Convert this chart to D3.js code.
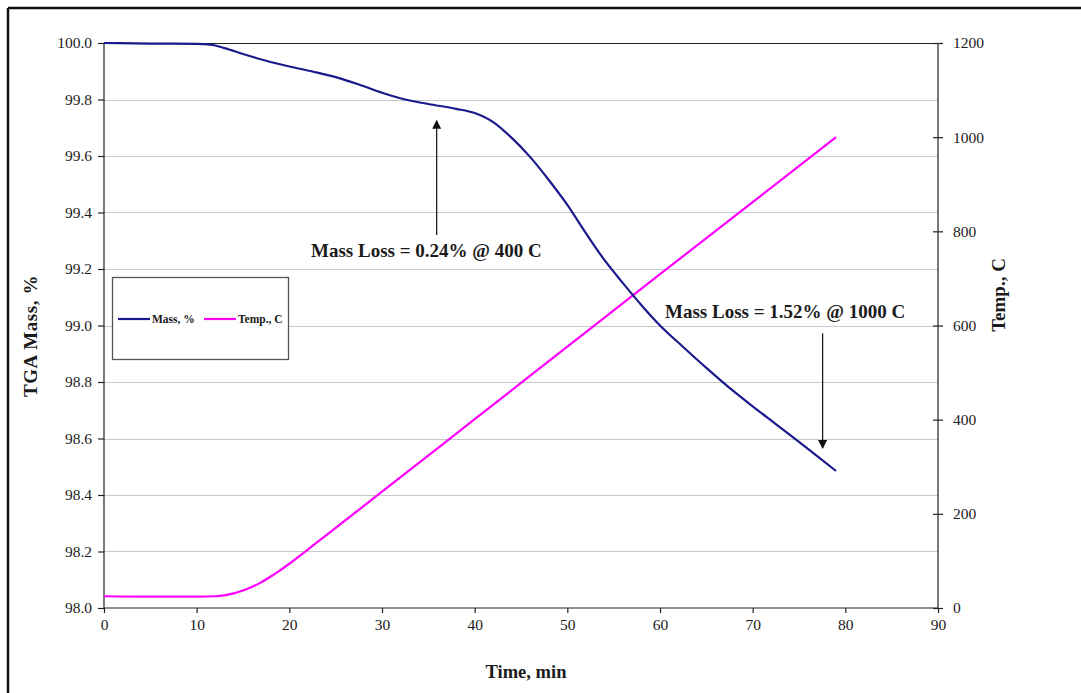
<!DOCTYPE html>
<html>
<head>
<meta charset="utf-8">
<script src="https://cdn.jsdelivr.net/npm/d3@7"></script>
<style>
  html, body { margin: 0; padding: 0; background: #fff; }
  svg { display: block; }
  text { font-family: "Liberation Serif", "Times New Roman", serif; fill: #1b1b1b; }
</style>
</head>
<body>
<svg id="chart" width="1081" height="693"></svg>
<script>
// TGA run: sample mass (%) and furnace temperature (C) against time (min)
const massTime = [0, 5, 10, 11.5, 13, 15, 17.5, 20, 22.5, 25, 27.5, 30, 32.5, 35, 38, 40, 42, 44, 46, 48, 50, 52, 54, 56, 58, 60, 62.5, 65, 67.5, 70, 72.5, 75, 77, 79];
const massPct  = [100.0, 99.998, 99.997, 99.994, 99.982, 99.961, 99.937, 99.917, 99.899, 99.879, 99.853, 99.824, 99.8, 99.784, 99.767, 99.752, 99.72, 99.664, 99.596, 99.515, 99.427, 99.327, 99.232, 99.15, 99.072, 99.0, 98.924, 98.85, 98.779, 98.714, 98.651, 98.588, 98.537, 98.485];

const tempTime = [0, 5, 10, 12, 13, 14, 15, 16, 17, 18, 19, 20, 21, 22, 24, 30, 40, 50, 60, 70, 79];
const tempC    = [25, 24, 24, 25, 27, 31, 37, 45, 55, 67, 80, 94, 109, 124, 155, 247, 401, 555, 709, 862, 1000];

const xTicks     = [0, 10, 20, 30, 40, 50, 60, 70, 80, 90];
const massTicks  = [98.0, 98.2, 98.4, 98.6, 98.8, 99.0, 99.2, 99.4, 99.6, 99.8, 100.0];
const tempTicks  = [0, 200, 400, 600, 800, 1000, 1200];

const seriesNames = ["Mass, %", "Temp., C"];
const notes = [
  { text: "Mass Loss = 0.24% @ 400 C", t: 35.9, from: 99.32, to: 99.725, tx: 311, ty: 257 },
  { text: "Mass Loss = 1.52% @ 1000 C", t: 77.55, from: 98.973, to: 98.566, tx: 665, ty: 318 }
];

const massColor = "#1a1a8c";
const tempColor = "#ff00ff";

const svg = d3.select("#chart");
const plot = { left: 104, right: 938, top: 43, bottom: 608 };

const x = d3.scaleLinear().domain([0, 90]).range([plot.left, plot.right]);
const yMass = d3.scaleLinear().domain([98, 100]).range([plot.bottom, plot.top]);
const yTemp = d3.scaleLinear().domain([0, 1200]).range([plot.bottom, plot.top]);

// outer frame (top and left edges)
svg.append("line").attr("x1", 8).attr("x2", 1081).attr("y1", 8).attr("y2", 8)
  .attr("stroke", "#111").attr("stroke-width", 2.5);
svg.append("line").attr("x1", 8).attr("x2", 8).attr("y1", 8).attr("y2", 693)
  .attr("stroke", "#111").attr("stroke-width", 2.5);

// horizontal gridlines
svg.append("g").selectAll("line")
  .data(massTicks.filter(d => d > 98 && d < 100))
  .join("line")
  .attr("x1", plot.left).attr("x2", plot.right)
  .attr("y1", d => Math.round(yMass(d)) + 0.5).attr("y2", d => Math.round(yMass(d)) + 0.5)
  .attr("stroke", "#c8c8c8").attr("stroke-width", 1);

// top border of plot area
svg.append("line").attr("x1", plot.left).attr("x2", plot.right)
  .attr("y1", plot.top + 0.5).attr("y2", plot.top + 0.5)
  .attr("stroke", "#222").attr("stroke-width", 1.2);

// axes
const leftAxis = d3.axisLeft(yMass).tickValues(massTicks).tickFormat(d3.format(".1f"))
  .tickSize(6).tickPadding(6);
const rightAxis = d3.axisRight(yTemp).tickValues(tempTicks).tickFormat(d3.format("d"))
  .tickSize(5).tickPadding(10);
const bottomAxis = d3.axisBottom(x).tickValues(xTicks).tickFormat(d3.format("d"))
  .tickSize(5).tickPadding(6);

function styleAxis(g) {
  g.select(".domain").attr("stroke", "#222").attr("stroke-width", 1.2);
  g.selectAll(".tick line").attr("stroke", "#222").attr("stroke-width", 1.2);
  g.selectAll(".tick text").style("font-size", "15.5px").attr("fill", "#1b1b2b")
    .style("font-family", "'Liberation Serif', serif");
}

const gl = svg.append("g").attr("transform", `translate(${plot.left},0)`).call(leftAxis);
styleAxis(gl);
gl.select(".domain").attr("d", `M0,${plot.top}V${plot.bottom}`);

const gr = svg.append("g").attr("transform", `translate(${plot.right},0)`).call(rightAxis);
styleAxis(gr);
gr.select(".domain").attr("d", `M0,${plot.top}V${plot.bottom}`);
// right ticks cross the axis line
gr.selectAll(".tick line").attr("x1", -5).attr("x2", 5);

const gb = svg.append("g").attr("transform", `translate(0,${plot.bottom})`).call(bottomAxis);
styleAxis(gb);
gb.select(".domain").attr("d", `M${plot.left},0H${plot.right}`);

// series
const massLine = d3.line().x((d, i) => x(massTime[i])).y(d => yMass(d)).curve(d3.curveMonotoneX);
const tempLine = d3.line().x((d, i) => x(tempTime[i])).y(d => yTemp(d)).curve(d3.curveMonotoneX);

svg.append("path").datum(tempC).attr("d", tempLine)
  .attr("fill", "none").attr("stroke", tempColor).attr("stroke-width", 2.2);
svg.append("path").datum(massPct).attr("d", massLine)
  .attr("fill", "none").attr("stroke", massColor).attr("stroke-width", 2.2);

// annotations with arrows
const defs = svg.append("defs");
defs.append("marker").attr("id", "arrowhead")
  .attr("viewBox", "0 0 10 10").attr("refX", 9).attr("refY", 5)
  .attr("markerWidth", 10).attr("markerHeight", 9).attr("markerUnits", "userSpaceOnUse")
  .attr("orient", "auto")
  .append("path").attr("d", "M0,0L10,5L0,10Z").attr("fill", "#111");

notes.forEach(n => {
  svg.append("line")
    .attr("x1", x(n.t)).attr("x2", x(n.t))
    .attr("y1", yMass(n.from)).attr("y2", yMass(n.to))
    .attr("stroke", "#111").attr("stroke-width", 1.2)
    .attr("marker-end", "url(#arrowhead)");
  svg.append("text").attr("x", n.tx).attr("y", n.ty)
    .style("font-size", "19px").style("font-weight", "bold")
    .attr("fill", "#1b1b1b").text(n.text);
});

// legend
const lg = svg.append("g");
lg.append("rect").attr("x", 112.5).attr("y", 277.5).attr("width", 176).attr("height", 82)
  .attr("fill", "#fff").attr("stroke", "#555").attr("stroke-width", 1.3);
const legendItems = [
  { name: seriesNames[0], color: massColor, x: 118 },
  { name: seriesNames[1], color: tempColor, x: 204 }
];
legendItems.forEach(it => {
  lg.append("line").attr("x1", it.x).attr("x2", it.x + 32).attr("y1", 319).attr("y2", 319)
    .attr("stroke", it.color).attr("stroke-width", 2.2);
  lg.append("text").attr("x", it.x + 34).attr("y", 323)
    .style("font-size", "11.5px").style("font-weight", "bold").text(it.name);
});

// axis titles
svg.append("text").attr("transform", "translate(37,336) rotate(-90)")
  .attr("text-anchor", "middle").style("font-size", "19px").style("font-weight", "bold")
  .style("letter-spacing", "0.6px")
  .text("TGA Mass, %");
svg.append("text").attr("transform", "translate(1005,295) rotate(-90)")
  .attr("text-anchor", "middle").style("font-size", "19px").style("font-weight", "bold")
  .text("Temp., C");
svg.append("text").attr("x", 526).attr("y", 678)
  .attr("text-anchor", "middle").style("font-size", "18.5px").style("font-weight", "bold")
  .text("Time, min");
</script>
</body>
</html>
